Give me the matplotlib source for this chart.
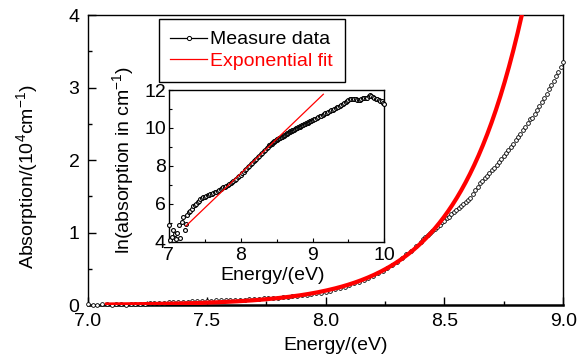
import numpy as np
import matplotlib.pyplot as plt
from matplotlib.lines import Line2D
from matplotlib.ticker import MultipleLocator

plt.rcParams['font.family'] = ['Liberation Sans', 'DejaVu Sans']
plt.rcParams['mathtext.fontset'] = 'custom'
plt.rcParams['mathtext.rm'] = 'Liberation Sans'
plt.rcParams['mathtext.it'] = 'Liberation Sans:italic'

# photon energy grid of the measurement (eV), finer where the edge is steep
energy = np.round(np.concatenate([np.arange(7.0, 8.39, 0.02),
                                  np.arange(8.40, 8.995, 0.01),
                                  np.arange(9.0, 10.001, 0.02)]), 2)

ln_absorption = [
    # 7.00 - 8.38 (step 0.02)
    4.88, 4.09, 4.26, 4.60, 4.39, 4.15, 4.45, 4.88, 4.17, 5.05,
    5.31, 4.61, 4.90, 5.40, 5.55, 5.62, 5.70, 5.85, 5.93, 5.98,
    6.08, 6.14, 6.22, 6.28, 6.33, 6.36, 6.40, 6.44, 6.47, 6.50,
    6.53, 6.56, 6.59, 6.63, 6.68, 6.74, 6.78, 6.82, 6.86, 6.90,
    6.94, 6.98, 7.03, 7.08, 7.13, 7.19, 7.24, 7.31, 7.38, 7.45,
    7.53, 7.60, 7.68, 7.76, 7.84, 7.92, 8.00, 8.08, 8.15, 8.23,
    8.31, 8.38, 8.46, 8.54, 8.62, 8.69, 8.77, 8.85, 8.92, 9.00,
    # 8.40 - 8.99 (step 0.01)
    9.07, 9.11, 9.14, 9.17, 9.20, 9.23, 9.26, 9.29, 9.31, 9.34,
    9.36, 9.39, 9.41, 9.44, 9.46, 9.48, 9.50, 9.52, 9.54, 9.56,
    9.58, 9.60, 9.64, 9.67, 9.70, 9.73, 9.75, 9.77, 9.79, 9.81,
    9.83, 9.85, 9.87, 9.89, 9.91, 9.93, 9.95, 9.97, 9.99, 10.01,
    10.03, 10.05, 10.07, 10.09, 10.11, 10.13, 10.15, 10.16, 10.18, 10.20,
    10.22, 10.24, 10.26, 10.28, 10.30, 10.32, 10.34, 10.36, 10.38, 10.40,
    # 9.00 - 10.00 (step 0.02)
    10.42, 10.46, 10.49, 10.53, 10.57, 10.61, 10.64, 10.68, 10.72, 10.76,
    10.80, 10.84, 10.88, 10.92, 10.96, 11.00, 11.04, 11.08, 11.12, 11.16,
    11.20, 11.25, 11.30, 11.35, 11.40, 11.45, 11.50, 11.52, 11.52, 11.51,
    11.51, 11.49, 11.48, 11.48, 11.52, 11.58, 11.60, 11.57, 11.56, 11.66,
    11.74, 11.70, 11.62, 11.58, 11.55, 11.52, 11.48, 11.44, 11.40, 11.34,
    11.26,
]

# exponential fit: ln(alpha) = fit_a + fit_b * E
fit_a = -21.53
fit_b = 3.64
fit_main_range = (7.08, 8.9)
fit_inset_range = (7.24, 9.15)

ln_absorption = np.array(ln_absorption)
absorption = np.exp(ln_absorption) / 1e4   # in 10^4 cm^-1

fig = plt.figure(figsize=(5.86, 3.58), dpi=100)
ax = fig.add_axes([0.150, 0.148, 0.811, 0.810])

main = energy <= 9.0
ax.plot(energy[main], absorption[main], 'o', color='black', ms=2.7,
        mfc='white', mew=0.6, clip_on=False, zorder=3)
e_fit = np.linspace(*fit_main_range, 200)
ax.plot(e_fit, np.exp(fit_a + fit_b * e_fit) / 1e4, color='red', lw=3.0, zorder=4)

ax.set_xlim(7.0, 9.0)
ax.set_ylim(0, 4)
ax.xaxis.set_major_locator(MultipleLocator(0.5))
ax.xaxis.set_minor_locator(MultipleLocator(0.25))
ax.yaxis.set_major_locator(MultipleLocator(1))
ax.yaxis.set_minor_locator(MultipleLocator(0.5))
ax.xaxis.set_major_formatter(plt.FuncFormatter(lambda v, p: f"{v:.1f}"))
ax.yaxis.set_major_formatter(plt.FuncFormatter(lambda v, p: f"{v:.0f}"))
ax.tick_params(which='both', direction='in', top=False, right=False, width=1.0, labelsize=14)
ax.tick_params(which='major', length=6)
ax.tick_params(which='minor', length=3)
ax.tick_params(axis='x', pad=6)
ax.tick_params(axis='y', pad=6)
for side in ('left', 'right', 'top'):
    ax.spines[side].set_linewidth(1.0)
ax.spines['bottom'].set_linewidth(1.8)

ax.set_xlabel("Energy/(eV)", fontsize=14)
ax.set_ylabel("Absorption/(10$^4$cm$^{-1}$)", fontsize=14)
ax.xaxis.set_label_coords(0.522, -0.112)
ax.yaxis.set_label_coords(-0.1, 0.443)

# inset: ln scale
axin = fig.add_axes([0.288, 0.3254, 0.368, 0.4232])
axin.plot(energy, ln_absorption, 'o', color='black', ms=2.8,
          mfc='white', mew=0.8, clip_on=False, zorder=3)
e_fit_in = np.linspace(*fit_inset_range, 100)
axin.plot(e_fit_in, fit_a + fit_b * e_fit_in, color='red', lw=0.9, zorder=4)
axin.set_xlim(7, 10)
axin.set_ylim(4, 12)
axin.xaxis.set_major_locator(MultipleLocator(1))
axin.xaxis.set_minor_locator(MultipleLocator(0.5))
axin.yaxis.set_major_locator(MultipleLocator(2))
axin.yaxis.set_minor_locator(MultipleLocator(1))
axin.tick_params(which='both', direction='in', top=False, right=False, width=0.8, labelsize=14)
axin.tick_params(which='major', length=3)
axin.tick_params(which='minor', length=2)
axin.tick_params(axis='x', pad=4)
axin.tick_params(axis='y', pad=2)
for s in axin.spines.values():
    s.set_linewidth(1.0)
axin.set_xlabel("Energy/(eV)", fontsize=14)
axin.set_ylabel("ln(absorption in cm$^{-1}$)", fontsize=14)
axin.xaxis.set_label_coords(0.48, -0.165)
axin.yaxis.set_label_coords(-0.15, 0.54)

handles = [
    Line2D([], [], color='black', lw=0.9, marker='o', ms=3, mfc='white', mew=0.7,
           label='Measure data'),
    Line2D([], [], color='red', lw=0.9, label='Exponential fit'),
]
leg = ax.legend(handles=handles, loc='upper left', bbox_to_anchor=(0.149, 0.986),
                borderaxespad=0, fancybox=False, edgecolor='black', framealpha=1,
                fontsize=14, handlelength=1.9, handletextpad=0.15, borderpad=0.6,
                labelspacing=0.2, labelcolor='linecolor', numpoints=1)
leg.get_frame().set_linewidth(1.0)

fig.savefig('out.png', dpi=100)
